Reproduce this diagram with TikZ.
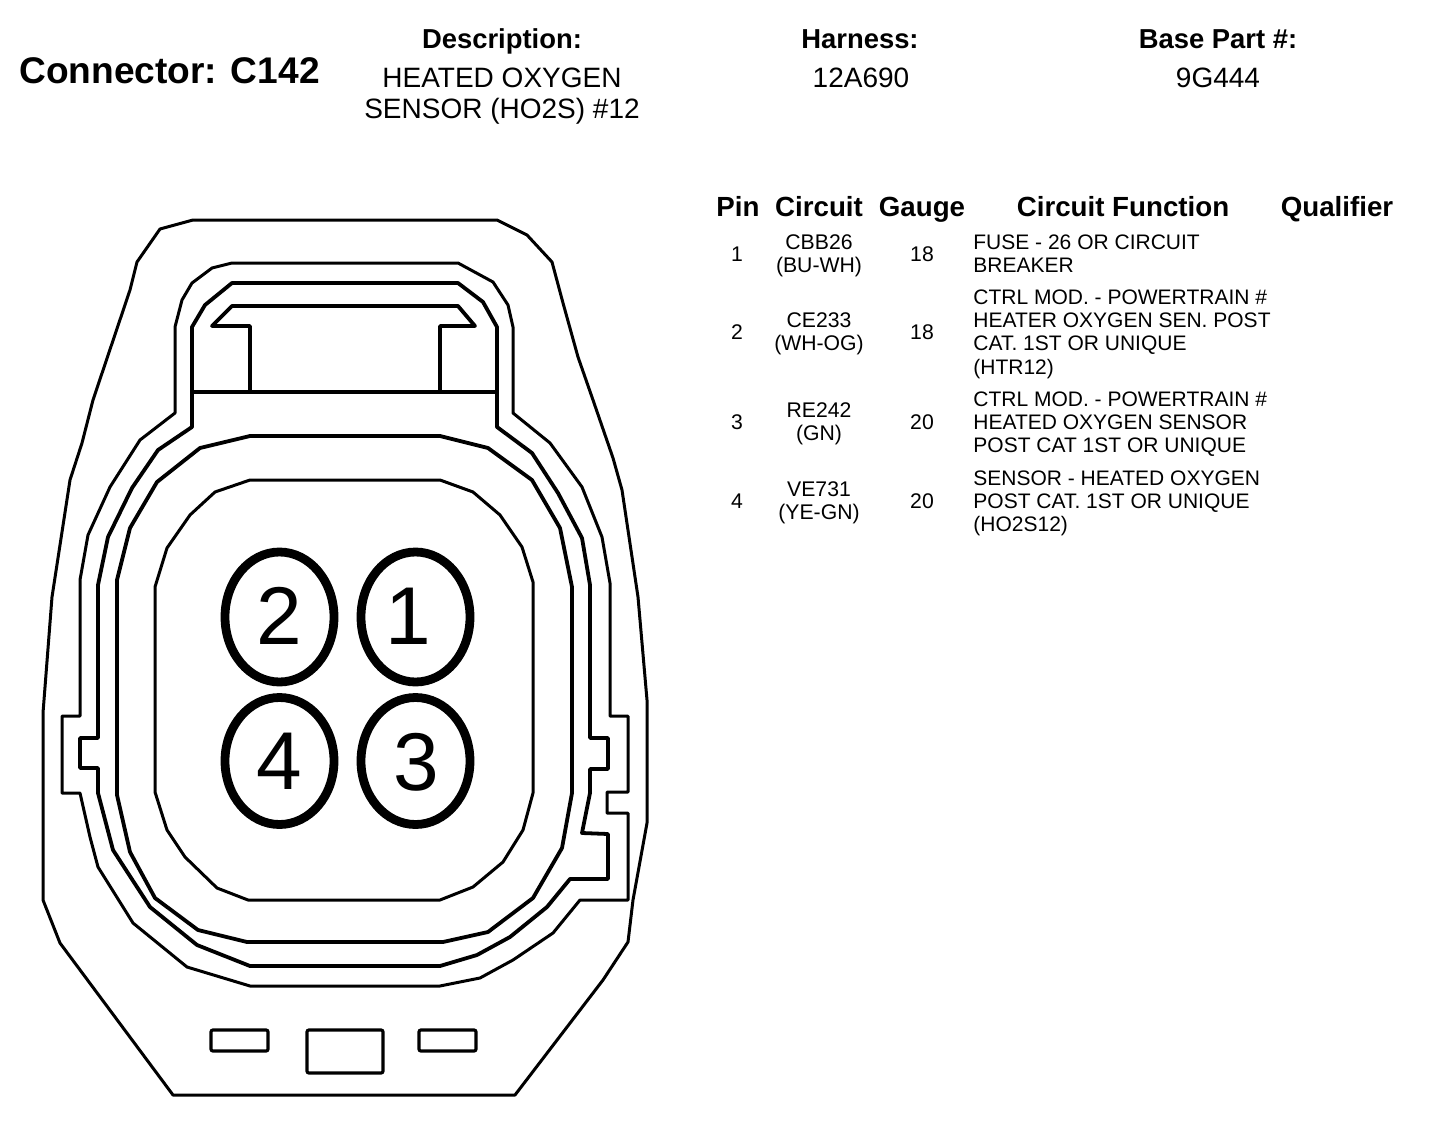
\documentclass[tikz,border=0pt]{standalone}
\usepackage{fontspec}
\setmainfont{Liberation Sans}
\tikzset{
    outline/.style={line width=1.5pt,line join=round},
    seal/.style={line width=1.9pt,line join=round},
    ring/.style={line width=4.4pt},
    slot/.style={line width=1.6pt,rounded corners=1pt},
    pinnum/.style={inner sep=0pt,font=\fontsize{41}{41}\selectfont},
    title/.style={inner sep=0pt,anchor=base west,font=\fontsize{18.55}{20}\bfseries\selectfont},
    head/.style={inner sep=0pt,anchor=base,font=\fontsize{13.7}{15}\bfseries\selectfont},
    colhead/.style={inner sep=0pt,anchor=base,font=\fontsize{13.85}{15}\bfseries\selectfont},
    desc/.style={inner sep=0pt,align=center,font=\fontsize{14}{15.5}\selectfont},
    cell/.style={inner sep=0pt,align=center,font=\fontsize{10.6}{11.65}\selectfont},
    func/.style={inner sep=0pt,anchor=west,align=left,font=\fontsize{10.5}{11.65}\selectfont},
}
\begin{document}
\begin{tikzpicture}[x=0.5pt,y=-0.5pt]
    \useasboundingbox (0,0) rectangle (1440,1124);
    % housing
    \draw[outline] (193,220) -- (497,220) -- (527,235) -- (552,262) -- (563,303) -- (578,357) -- (593,400)
        -- (613,458) -- (622,490) -- (638,597) -- (647,700) -- (647,823) -- (633,900) -- (628,942) -- (603,980)
        -- (515,1095) -- (173,1095) -- (60,943) -- (43,900) -- (43,713) -- (52,597) -- (70,480) -- (82,443)
        -- (93,400) -- (130,290) -- (137,262) -- (160,229) -- cycle;
    % outer seal
    \draw[outline] (232,263) -- (458,263) -- (493,282) -- (508,305) -- (513,327) -- (513,413) -- (550,443)
        -- (582,487) -- (602,537) -- (610,583) -- (610,716) -- (628,716) -- (628,792) -- (607,792) -- (607,813)
        -- (628,813) -- (628,900) -- (580,900) -- (553,933) -- (513,960) -- (480,978) -- (440,986) -- (250,986)
        -- (187,967) -- (133,923) -- (98,867) -- (90,837) -- (80,793) -- (62,793) -- (62,716) -- (80,716)
        -- (80,580) -- (88,535) -- (110,487) -- (140,440) -- (175,413) -- (175,327) -- (182,300) -- (192,283)
        -- (212,268) -- cycle;
    % inner seal
    \draw[seal] (232,283) -- (458,283) -- (483,302) -- (497,327) -- (497,427) -- (532,453) -- (558,493)
        -- (582,538) -- (590,585) -- (590,738) -- (608,738) -- (608,769) -- (590,769) -- (590,793) -- (582,833)
        -- (608,834) -- (608,879) -- (570,879) -- (547,907) -- (510,937) -- (477,955) -- (440,966) -- (250,966)
        -- (197,945) -- (150,907) -- (113,850) -- (98,793) -- (98,768) -- (80,768) -- (80,738) -- (98,738)
        -- (98,585) -- (108,537) -- (132,488) -- (158,450) -- (192,427) -- (192,327) -- (205,305) -- cycle;
    % latch
    \draw[seal] (192,392) -- (497,392);
    \draw[seal] (250,392) -- (250,326) -- (212,326) -- (232,306) -- (458,306) -- (475,326) -- (440,326) -- (440,392);
    % plug body
    \draw[seal] (250,436) -- (440,436) -- (488,448) -- (532,480) -- (560,528) -- (572,587) -- (572,793)
        -- (562,848) -- (533,898) -- (488,932) -- (443,942) -- (247,942) -- (198,930) -- (155,898) -- (130,852)
        -- (117,795) -- (117,580) -- (130,528) -- (157,482) -- (200,448) -- cycle;
    \draw[outline] (250,480) -- (440,480) -- (473,492) -- (500,515) -- (522,547) -- (533,582) -- (533,793)
        -- (523,830) -- (503,862) -- (473,887) -- (440,900) -- (248,900) -- (217,888) -- (185,857) -- (167,830)
        -- (155,792) -- (155,587) -- (167,548) -- (190,515) -- (215,492) -- cycle;
    % pins
    \draw[ring] (279.5,617) ellipse [x radius=54.5, y radius=65];
    \draw[ring] (415.5,617) ellipse [x radius=54.5, y radius=65];
    \draw[ring] (279.5,761) ellipse [x radius=54.5, y radius=63.5];
    \draw[ring] (415.5,761) ellipse [x radius=54.5, y radius=63.5];
    \node[pinnum] (pintwo) at (279,616) {2};
    \node[pinnum] (pinone) at (408,616) {1};
    \node[pinnum] (pinfour) at (279,761) {4};
    \node[pinnum] (pinthree) at (416,762) {3};
    % slots
    \draw[slot] (211,1030) rectangle (268,1051);
    \draw[slot] (307,1030) rectangle (383,1073);
    \draw[slot] (419,1030) rectangle (476,1051);
    % title block
    \node[title] (conn) at (19,83) {Connector: C142};
    \node[head] (deshead) at (502,48) {Description:};
    \node[head] (harhead) at (860,48) {Harness:};
    \node[head] (parthead) at (1218,48) {Base Part \#:};
    \node[desc] (desval) at (502,96.5) {HEATED OXYGEN\\SENSOR (HO2S) \#12};
    \node[desc] (harval) at (861,78) {12A690};
    \node[desc] (partval) at (1218,78) {9G444};
    % table head
    \node[colhead] (pinhead) at (738,216) {Pin};
    \node[colhead] (cirhead) at (819,216) {Circuit};
    \node[colhead] (gauhead) at (922,216) {Gauge};
    \node[colhead] (funchead) at (1123,216) {Circuit Function};
    \node[colhead] (qualhead) at (1337,216) {Qualifier};
    % table rows
    \node[cell] (pina) at (737,254) {1};
    \node[cell] (cira) at (819,256) {CBB26\\(BU-WH)};
    \node[cell] (gaua) at (922,254) {18};
    \node[func] (funca) at (973,254) {FUSE - 26 OR CIRCUIT\\BREAKER};
    \node[cell] (pinb) at (737,332) {2};
    \node[cell] (cirb) at (819,334) {CE233\\(WH-OG)};
    \node[cell] (gaub) at (922,332) {18};
    \node[func] (funcb) at (973,334) {CTRL MOD. - POWERTRAIN \#\\HEATER OXYGEN SEN. POST\\CAT. 1ST OR UNIQUE\\(HTR12)};
    \node[cell] (pinc) at (737,422) {3};
    \node[cell] (circ) at (819,424) {RE242\\(GN)};
    \node[cell] (gauc) at (922,422) {20};
    \node[func] (funcc) at (973,424) {CTRL MOD. - POWERTRAIN \#\\HEATED OXYGEN SENSOR\\POST CAT 1ST OR UNIQUE};
    \node[cell] (pind) at (737,501) {4};
    \node[cell] (cird) at (819,503) {VE731\\(YE-GN)};
    \node[cell] (gaud) at (922,501) {20};
    \node[func] (funcd) at (973,503.5) {SENSOR - HEATED OXYGEN\\POST CAT. 1ST OR UNIQUE\\(HO2S12)};
\end{tikzpicture}
\end{document}
